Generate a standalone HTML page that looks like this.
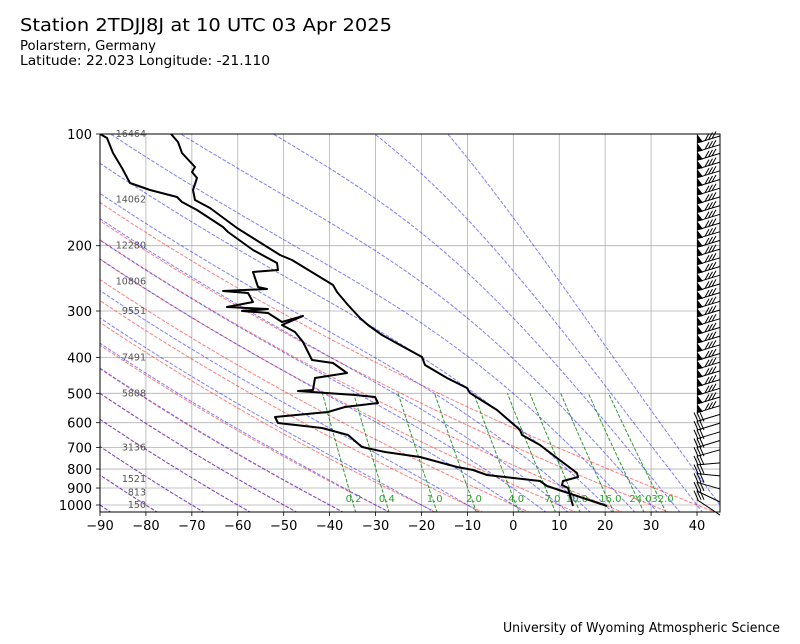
<!DOCTYPE html>
<html><head><meta charset="utf-8"><style>
html,body{margin:0;padding:0;background:#fff;}
body{width:800px;height:640px;overflow:hidden;font-family:"DejaVu Sans",sans-serif;}
</style></head><body>
<svg id="s" width="800" height="640" xmlns="http://www.w3.org/2000/svg" font-family="DejaVu Sans, sans-serif">
<defs><clipPath id="c"><rect x="100" y="134" width="620" height="378"/></clipPath></defs>
<rect width="800" height="640" fill="#fff"/>
<text x="20" y="31" font-size="18" textLength="372" lengthAdjust="spacingAndGlyphs">Station 2TDJJ8J at 10 UTC 03 Apr 2025</text>
<text x="20" y="50" font-size="13" textLength="136" lengthAdjust="spacingAndGlyphs">Polarstern, Germany</text>
<text x="20" y="65" font-size="13" textLength="250" lengthAdjust="spacingAndGlyphs">Latitude: 22.023 Longitude: -21.110</text>
<text x="503" y="632" font-size="13" textLength="277" lengthAdjust="spacingAndGlyphs">University of Wyoming Atmospheric Science</text>
<g id="grid"></g>
<g id="lines" clip-path="url(#c)"></g>
<g id="prof" clip-path="url(#c)" fill="none" stroke="#000" stroke-width="2" stroke-linejoin="round"></g>
<g id="barbs"></g>
<rect x="100" y="134" width="620" height="378" fill="none" stroke="#000" stroke-width="1"/>
<g id="ax"></g>
</svg>
<script>
const NS="http://www.w3.org/2000/svg";
const X=T=>100+(T+90)*597/130, Y=p=>134+371*Math.log10(p/100);
function el(parent,tag,attrs,txt){const e=document.createElementNS(NS,tag);for(const k in attrs)e.setAttribute(k,attrs[k]);if(txt!==undefined)e.textContent=txt;document.getElementById(parent).appendChild(e);return e;}
function pl(parent,pts,attrs){attrs.points=pts.map(q=>q[0].toFixed(1)+","+q[1].toFixed(1)).join(" ");attrs.fill="none";return el(parent,"polyline",attrs);}
for(let T=-90;T<=40;T+=10){const x=X(T);el("grid","line",{x1:x,y1:134,x2:x,y2:512,stroke:"#b0b0b0","stroke-width":0.8});
 el("ax","line",{x1:x,y1:512,x2:x,y2:516,stroke:"#000","stroke-width":0.8});
 el("ax","text",{x:x,y:530,"font-size":13,"text-anchor":"middle"},T<0?"\u2212"+(-T):""+T);}
for(let p=100;p<=1000;p+=100){const y=Y(p);el("grid","line",{x1:100,y1:y,x2:720,y2:y,stroke:"#b0b0b0","stroke-width":0.8});
 el("ax","line",{x1:96,y1:y,x2:100,y2:y,stroke:"#000","stroke-width":0.8});
 el("ax","text",{x:92,y:y+5,"font-size":13,"text-anchor":"end"},""+p);}
[[100,16464],[150,14062],[200,12280],[250,10806],[300,9551],[400,7491],[500,5808],[700,3136],[850,1521],[925,813],[1000,150]].forEach(h=>{
 el("ax","text",{x:146,y:Y(h[0])+3,"font-size":9.5,fill:"#555","text-anchor":"end"},""+h[1]);});
for(let t=-90;t<=40;t+=10){const th=t+273.15;const pts=[];for(let p=1050;p>=100;p-=10){pts.push([X(th*Math.pow(p/1000,0.2857)-273.15),Y(p)]);}
 pl("lines",pts,{stroke:"#ff0000","stroke-opacity":0.5,"stroke-width":1,"stroke-dasharray":"3.7,1.6"});}
function es(Tk){const c=Tk-273.15;return 6.112*Math.exp(17.67*c/(c+243.5));}
function f(p,T){const e=es(T);const rs=0.622*e/Math.max(p-e,1);const Rd=287.04,Cp=1005.7,Lv=2.501e6;return (Rd*T+Lv*rs)/(p*(Cp+Lv*Lv*rs*0.622/(Rd*T*T)));}
const m0=[-90,-80,-70,-60,-50,-40,-30,-20,-10,0,5,10,15,20,25,30,35,40,45];
m0.forEach(t=>{let T=t+273.15,p=1000;const up=[[X(t),Y(p)]];
 while(p>100){const h=-2;const k1=f(p,T),k2=f(p+h/2,T+h/2*k1);T+=h*k2;p+=h;up.push([X(T-273.15),Y(p)]);}
 T=t+273.15;p=1000;const dn=[];while(p<1050){const h=2;const k1=f(p,T),k2=f(p+h/2,T+h/2*k1);T+=h*k2;p+=h;dn.unshift([X(T-273.15),Y(p)]);}
 pl("lines",dn.concat(up),{stroke:"#0000ff","stroke-opacity":0.5,"stroke-width":1,"stroke-dasharray":"3.7,1.6"});});
[0.2,0.4,1,2,4,7,10,16,24,32].forEach(w=>{const W=w/1000;const td=p=>{const e=W*p/(0.622+W);const l=Math.log(e/6.112);return 243.5*l/(17.67-l);};
 const pts=[];for(let p=1050;p>=500;p-=10)pts.push([X(td(p)),Y(p)]);
 pl("lines",pts,{stroke:"#008000","stroke-opacity":0.8,"stroke-width":1,"stroke-dasharray":"3.7,1.6"});
 el("lines","text",{x:X(td(1000)),y:502,"font-size":10,fill:"#2ca02c","text-anchor":"middle"},w.toFixed(1));});
const Tp=[[171,134],[178,142],[182,153],[195,167],[192,172],[197,178],[193,190],[195,200],[210,208],[237,228],[280,255],[292,260],[333,285],[337,292],[348,305],[360,318],[368,325],[382,335],[400,345],[422,357],[425,365],[447,378],[467,388],[470,393],[497,410],[520,430],[522,435],[540,445],[557,458],[577,473],[578,477],[563,481],[562,485],[568,488],[570,495],[573,506]];
const Dp=[[100,134],[107,138],[113,153],[122,168],[130,183],[150,190],[177,197],[182,202],[197,210],[223,227],[228,232],[253,250],[277,263],[278,270],[253,272],[258,287],[267,289],[223,291],[248,293],[253,302],[227,307],[268,309],[242,311],[268,313],[282,322],[303,316],[282,325],[295,332],[303,342],[312,360],[333,363],[347,373],[315,378],[313,390],[298,391],[355,395],[375,397],[378,403],[345,407],[328,412],[275,417],[278,423],[322,428],[348,435],[362,447],[385,452],[420,457],[457,467],[473,470],[487,475],[540,481],[547,486],[607,506]];
pl("prof",Tp,{stroke:"#000","stroke-width":2});pl("prof",Dp,{stroke:"#000","stroke-width":2});
for(let i=0;i<42;i++){const y=143+i*8.7;if(y>508)break;const x0=697;
 if(y<420){el("barbs","polygon",{points:`${x0},${y} ${x0},${y-9} ${x0+6},${y-1}`,fill:"#000"});
  el("barbs","line",{x1:x0,y1:y,x2:720,y2:y-7,stroke:"#000","stroke-width":1});
  for(let k=0;k<3;k++){const bx=x0+8+k*3.5,by=y-2.5-k*1;el("barbs","line",{x1:bx,y1:by,x2:bx+4,y2:by-7,stroke:"#000","stroke-width":1});}}
 else{const ex=x0+23,ey=y-7+(y>455?(y-455)*0.5:0);
  el("barbs","line",{x1:x0,y1:y,x2:Math.min(ex,720),y2:ey,stroke:"#000","stroke-width":1});
  for(let k=0;k<3;k++){const bx=x0+1+k*3,by=y;el("barbs","line",{x1:bx,y1:by,x2:bx-4,y2:by-9,stroke:"#000","stroke-width":1});}}}
</script>
</body></html>
